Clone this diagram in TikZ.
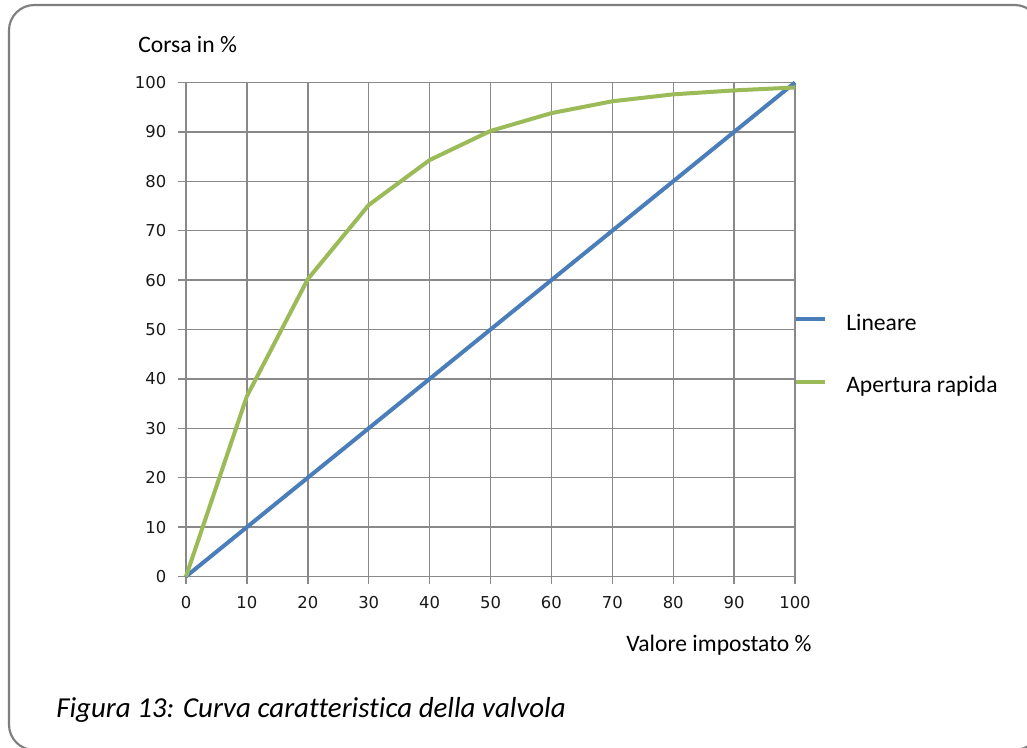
\documentclass[tikz,border=0pt]{standalone}
\usepackage{fontspec}
\setmainfont{Carlito}[Ligatures=NoCommon]
\newfontfamily\tickfont{DejaVu Sans}
\definecolor{framegray}{HTML}{7F7F7F}
\definecolor{gridgray}{HTML}{898989}
\definecolor{lblue}{HTML}{4A7EBB}
\definecolor{lgreen}{HTML}{9BBB59}
\tikzset{
  gridline/.style={draw=gridgray, line width=1.05pt},
  serieslin/.style={draw=lblue, line width=3pt, line join=round},
  seriesrap/.style={draw=lgreen, line width=3pt, line join=round},
  ticklbl/.style={font=\tickfont\fontsize{12.3}{14}\selectfont, text=black!90, inner sep=0pt},
  lbl/.style={font=\fontsize{17.7}{20}\selectfont, inner sep=0pt, anchor=base west},
}
\begin{document}
\begin{tikzpicture}[x=0.75pt,y=-0.75pt]
\useasboundingbox (0,0) rectangle (1027,747);
\clip (0,0) rectangle (1027,747);
\fill[white] (0,0) rectangle (1027,747);
\draw[framegray, line width=1.6pt, rounded corners=19pt] (9,5) rectangle (1040,750);

\begin{scope}[shift={(139.5pt,-432.375pt)}, x=4.5675pt, y=3.705pt]
  % grid
  \foreach \v in {0,10,...,100} {
    \draw[gridline] (-1.3,\v) -- (100,\v);
    \draw[gridline] (\v,-1.5) -- (\v,100);
    \node[ticklbl, anchor=east] (yl\v) at (-3.2,\v) {\v};
    \node[ticklbl, anchor=center] (xl\v) at (\v,-5.3) {\v};
  }
  % series
  \draw[serieslin] (0,0) -- (100,100);
  \draw[seriesrap] plot coordinates {(0,0) (10,36.5) (20,60.2) (30,75.2) (40,84.3) (50,90.2) (60,93.8) (70,96.2) (80,97.6) (90,98.4) (100,99)};
\end{scope}

\node[lbl] (ylab) at (138,52) {Corsa in \%};
\node[lbl] (xlab) at (626,651.5) {Valore impostato \%};

% legend
\coordinate (lb1) at (796,319);
\coordinate (lb2) at (825,319);
\draw[draw=lblue, line width=3pt] (lb1) -- (lb2);
\node[lbl, anchor=west] (leglin) at (846,322) {Lineare};
\coordinate (lg1) at (796,382);
\coordinate (lg2) at (825,382);
\draw[draw=lgreen, line width=3pt] (lg1) -- (lg2);
\node[lbl, anchor=west] (legrap) at (846,386) {Apertura rapida};

\node[font=\itshape\fontsize{21.7}{24}\selectfont, inner sep=0pt, anchor=base west] (cap) at (56,717) {Figura 13: Curva caratteristica della valvola};
\end{tikzpicture}
\end{document}
